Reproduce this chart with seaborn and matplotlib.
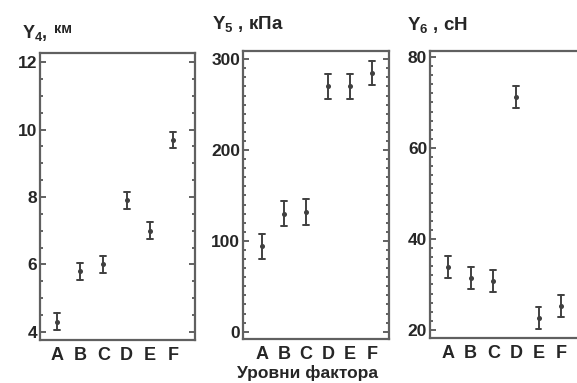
import matplotlib
matplotlib.use("Agg")
import matplotlib.pyplot as plt
from matplotlib.ticker import MultipleLocator
import seaborn as sns
import pandas as pd

categories = ["A", "B", "C", "D", "E", "F"]
y4_mean = [4.3, 5.8, 6.0, 7.9, 7.0, 9.7]
y4_err = [0.25, 0.25, 0.25, 0.25, 0.25, 0.24]
y5_mean = [94, 130, 132, 270, 270, 285]
y5_err = [14, 14, 14, 14, 14, 13]
y6_mean = [33.8, 31.4, 30.8, 71.2, 22.6, 25.3]
y6_err = [2.4, 2.4, 2.4, 2.4, 2.4, 2.4]

titles = [r"$\mathbf{Y}_\mathbf{4}$,", r"$\mathbf{Y}_\mathbf{5}$ , кПа", r"$\mathbf{Y}_\mathbf{6}$ , сН"]
xlabel_text = "Уровни фактора"

sns.set_style("white")
plt.rcParams["font.family"] = ["Liberation Sans", "DejaVu Sans"]
plt.rcParams["font.weight"] = "bold"
plt.rcParams["mathtext.fontset"] = "custom"
plt.rcParams["mathtext.bf"] = "Liberation Sans:bold"
plt.rcParams["mathtext.rm"] = "Liberation Sans:bold"

W, H = 577, 383
fig = plt.figure(figsize=(W / 100, H / 100), dpi=100)


def frame(x0, y0, x1, y1):
    return [x0 / W, 1 - y1 / H, (x1 - x0) / W, (y1 - y0) / H]


specs = [
    dict(pos=frame(40, 53, 195, 340), mean=y4_mean, err=y4_err, ylim=(3.76, 12.27),
         xlim=(-0.74, 5.95), major=2, minor=0.5),
    dict(pos=frame(243, 51, 389, 339), mean=y5_mean, err=y5_err, ylim=(-8, 309),
         xlim=(-0.86, 5.77), major=100, minor=10),
    dict(pos=frame(430, 51, 586, 338), mean=y6_mean, err=y6_err, ylim=(18.24, 81.3),
         xlim=(-0.8, 6.1), major=20, minor=2),
]

ecol = "#404040"
for s in specs:
    ax = fig.add_axes(s["pos"])
    rows = []
    for c, m, e in zip(categories, s["mean"], s["err"]):
        rows.append({"cat": c, "val": m - e})
        rows.append({"cat": c, "val": m + e})
    df = pd.DataFrame(rows)
    sns.pointplot(data=df, x="cat", y="val", order=categories, estimator="mean",
                  errorbar=("pi", 100), linestyle="none", marker="o", markersize=1.6,
                  color=ecol, capsize=0.26, err_kws={"linewidth": 1.4}, ax=ax)
    ax.set_xlim(*s["xlim"])
    ax.set_ylim(*s["ylim"])
    ax.set_xlabel("")
    ax.set_ylabel("")
    ax.yaxis.set_major_locator(MultipleLocator(s["major"]))
    ax.yaxis.set_minor_locator(MultipleLocator(s["minor"]))
    ax.tick_params(axis="y", which="both", direction="in", left=True, right=True,
                   color="#555555", labelsize=12.5, pad=2)
    ax.tick_params(axis="y", which="major", length=4, width=1.3)
    ax.tick_params(axis="y", which="minor", length=2.5, width=1.3)
    ax.tick_params(axis="x", which="both", length=0, labelsize=13, pad=5)
    for lab in ax.get_xticklabels() + ax.get_yticklabels():
        lab.set_fontweight("bold")
    for sp in ax.spines.values():
        sp.set_visible(True)
        sp.set_color("#606060")
        sp.set_linewidth(1.6)

# titles
fig.text(22 / W, 1 - 38 / H, titles[0], fontsize=13, fontweight="bold", ha="left", va="baseline")
fig.text(54 / W, 1 - 33 / H, "км", fontsize=10.5, fontweight="bold", ha="left", va="baseline")
fig.text(212 / W, 1 - 30 / H, titles[1], fontsize=13.5, fontweight="bold", ha="left", va="baseline")
fig.text(407 / W, 1 - 31 / H, titles[2], fontsize=13.5, fontweight="bold", ha="left", va="baseline")
fig.text(237 / W, 1 - 373 / H, xlabel_text, fontsize=12.5, fontweight="bold", ha="left", va="center")

fig.savefig("out.png", dpi=100)
